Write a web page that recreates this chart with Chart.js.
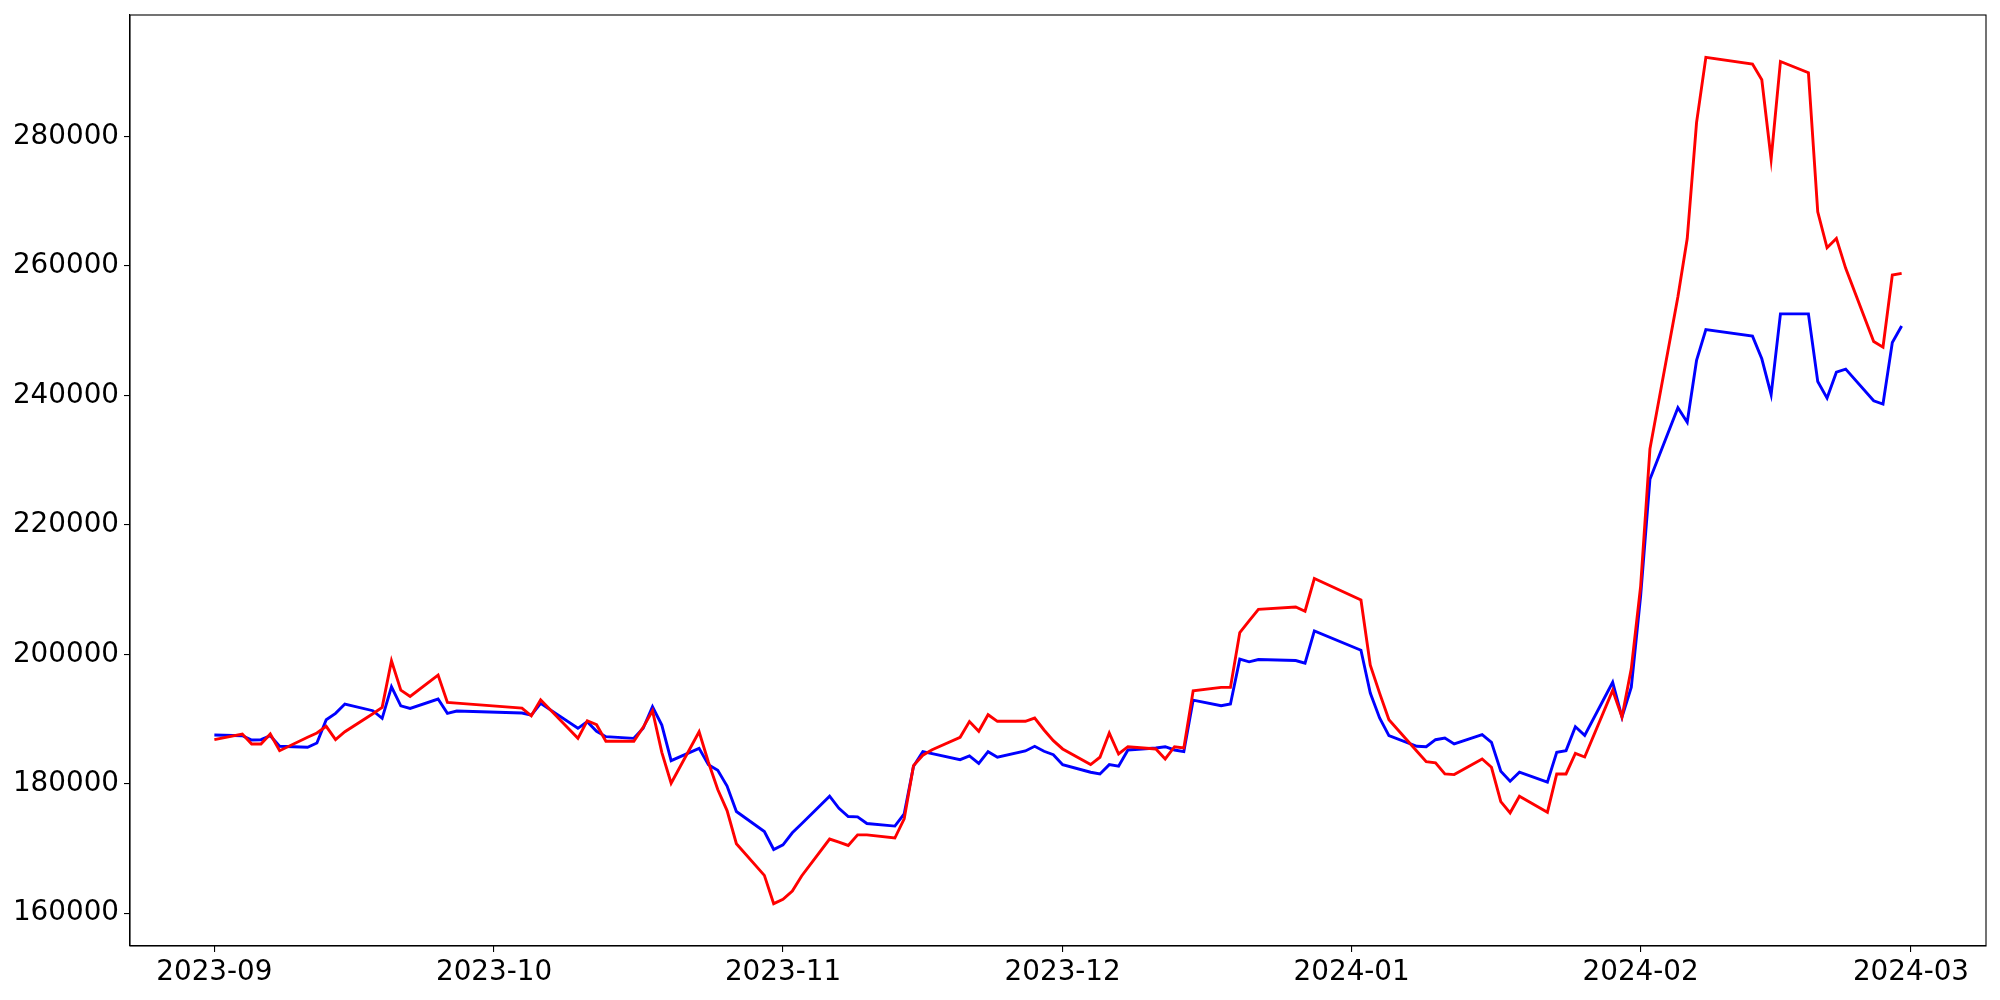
<!DOCTYPE html>
<html>
<head>
<meta charset="utf-8">
<script src="https://cdn.jsdelivr.net/npm/chart.js@4/dist/chart.umd.min.js"></script>
<style>
  html, body { margin: 0; padding: 0; background: #ffffff; }
  #wrap { width: 2000px; height: 1000px; }
</style>
</head>
<body>
<div id="wrap"><canvas id="c" width="2000" height="1000"></canvas></div>
<script>
// ---- data ----
const dates = [
  "2023-09-01","2023-09-04","2023-09-05","2023-09-06","2023-09-07","2023-09-08",
  "2023-09-11","2023-09-12","2023-09-13","2023-09-14","2023-09-15",
  "2023-09-18","2023-09-19","2023-09-20","2023-09-21","2023-09-22",
  "2023-09-25","2023-09-26","2023-09-27",
  "2023-10-04","2023-10-05","2023-10-06",
  "2023-10-10","2023-10-11","2023-10-12","2023-10-13",
  "2023-10-16","2023-10-17","2023-10-18","2023-10-19","2023-10-20",
  "2023-10-23","2023-10-24","2023-10-25","2023-10-26","2023-10-27",
  "2023-10-30","2023-10-31","2023-11-01","2023-11-02","2023-11-03",
  "2023-11-06","2023-11-07","2023-11-08","2023-11-09","2023-11-10",
  "2023-11-13","2023-11-14","2023-11-15","2023-11-16","2023-11-17",
  "2023-11-20","2023-11-21","2023-11-22","2023-11-23","2023-11-24",
  "2023-11-27","2023-11-28","2023-11-29","2023-11-30","2023-12-01",
  "2023-12-04","2023-12-05","2023-12-06","2023-12-07","2023-12-08",
  "2023-12-11","2023-12-12","2023-12-13","2023-12-14","2023-12-15",
  "2023-12-18","2023-12-19","2023-12-20","2023-12-21","2023-12-22",
  "2023-12-26","2023-12-27","2023-12-28",
  "2024-01-02","2024-01-03","2024-01-04","2024-01-05",
  "2024-01-08","2024-01-09","2024-01-10","2024-01-11","2024-01-12",
  "2024-01-15","2024-01-16","2024-01-17","2024-01-18","2024-01-19",
  "2024-01-22","2024-01-23","2024-01-24","2024-01-25","2024-01-26",
  "2024-01-29","2024-01-30","2024-01-31","2024-02-01","2024-02-02",
  "2024-02-05","2024-02-06","2024-02-07","2024-02-08",
  "2024-02-13","2024-02-14","2024-02-15","2024-02-16",
  "2024-02-19","2024-02-20","2024-02-21","2024-02-22","2024-02-23",
  "2024-02-26","2024-02-27","2024-02-28","2024-02-29"
];

const redValues = [
  186800,187680,186140,186140,187680,185100,
  187170,187830,188870,186800,188030,
  190810,191800,198980,194460,193490,
  196780,192560,192450,
  191690,190500,192970,
  187010,189730,189110,186550,
  186550,188710,191270,184850,180080,
  188030,183310,179100,175850,170720,
  165830,161460,162130,163420,165740,
  171450,170980,170460,172100,172100,
  171600,174570,182790,184400,185240,
  187170,189610,188100,190660,189640,
  189640,190150,188300,186650,185370,
  182950,184090,187830,184590,185720,
  185370,183820,185720,185520,194360,
  194880,194880,203360,205150,206950,
  207310,206650,211710,
  208390,198320,194000,189890,
  185010,183410,183210,181510,181410,
  183820,182540,177240,175500,178070,
  175600,181510,181510,184700,184130,
  194420,190300,197780,210500,231750,
  255260,264240,282160,292250,
  291200,288790,276500,291610,
  289870,268370,262820,264270,259640,
  248330,247460,258610,258870
];

const blueValues = [
  187520,187420,186750,186800,187420,185780,
  185630,186290,189890,190870,192310,
  191280,190100,194970,192040,191640,
  193080,190870,191230,
  190920,190610,192410,
  188560,189580,188100,187270,
  187010,188560,191890,189070,183560,
  185470,182940,182080,179640,175700,
  172610,169840,170560,172410,173800,
  178070,176200,174930,174880,173850,
  173450,175340,182700,184950,184640,
  183720,184290,183130,184950,184090,
  185060,185780,185010,184490,182950,
  181770,181510,182950,182700,185210,
  185520,185720,185210,184950,192920,
  192040,192310,199250,198830,199190,
  199040,198630,203620,
  200630,194000,190150,187420,
  185780,185720,186800,187060,186140,
  187570,186400,181930,180390,181770,
  180230,184860,185110,188800,187480,
  195680,190300,194930,208970,227050,
  238100,235850,245410,250190,
  249170,245660,240110,252600,
  252600,242160,239590,243600,244070,
  239180,238670,248170,250740
];

const xTickLabels = ["2023-09","2023-10","2023-11","2023-12","2024-01","2024-02","2024-03"];
const yTickValues = [160000,180000,200000,220000,240000,260000,280000];

// ---- helpers ----
function dayNum(s) {
  const p = s.split("-").map(Number);
  return Date.UTC(p[0], p[1] - 1, p[2] || 1) / 86400000;
}
const xDays = dates.map(dayNum);
const xTickDays = xTickLabels.map(l => dayNum(l + "-01"));
const firstDay = xDays[0], lastDay = xDays[xDays.length - 1];
const xPad = (lastDay - firstDay) * 0.05;

const allVals = redValues.concat(blueValues);
const vMin = Math.min.apply(null, allVals), vMax = Math.max.apply(null, allVals);
const yPad = (vMax - vMin) * 0.05;

const redPts = xDays.map((d, i) => ({ x: d, y: redValues[i] }));
const bluePts = xDays.map((d, i) => ({ x: d, y: blueValues[i] }));

const FONT = { family: "'DejaVu Sans', sans-serif", size: 27.8 };

const frame = {
  id: 'frame',
  afterDraw(chart) {
    const a = chart.chartArea, ctx = chart.ctx;
    ctx.save();
    ctx.strokeStyle = '#000';
    ctx.lineWidth = 1.1;
    ctx.strokeRect(a.left, a.top, a.right - a.left, a.bottom - a.top);
    ctx.restore();
  }
};

new Chart(document.getElementById('c'), {
  type: 'line',
  data: {
    datasets: [
      { data: redPts, borderColor: '#ff0000', borderWidth: 2.9, pointRadius: 0, tension: 0, fill: false },
      { data: bluePts, borderColor: '#0000ff', borderWidth: 2.9, pointRadius: 0, tension: 0, fill: false }
    ]
  },
  options: {
    responsive: false,
    animation: false,
    devicePixelRatio: 1,
    layout: { padding: { top: 15, right: 14, left: 0, bottom: 0 } },
    plugins: { legend: { display: false }, tooltip: { enabled: false } },
    scales: {
      x: {
        type: 'linear',
        min: firstDay - xPad,
        max: lastDay + xPad,
        afterBuildTicks: s => { s.ticks = xTickDays.map(v => ({ value: v })); },
        afterFit: s => { s.height = 54; s.paddingLeft = 0; s.paddingRight = 0; },
        ticks: {
          color: '#000', font: FONT, padding: 4, maxRotation: 0, autoSkip: false,
          callback: v => { const i = xTickDays.indexOf(v); return i >= 0 ? xTickLabels[i] : ''; }
        },
        grid: { drawOnChartArea: false, drawTicks: true, tickLength: 6, color: '#000', lineWidth: 1.1 },
        border: { display: true, color: '#000', width: 1.1 }
      },
      y: {
        type: 'linear',
        min: vMin - yPad,
        max: vMax + yPad,
        afterBuildTicks: s => { s.ticks = yTickValues.map(v => ({ value: v })); },
        afterFit: s => { s.width = 130; s.paddingTop = 0; s.paddingBottom = 0; },
        ticks: { color: '#000', font: FONT, padding: 5, autoSkip: false, callback: v => String(v) },
        grid: { drawOnChartArea: false, drawTicks: true, tickLength: 6, color: '#000', lineWidth: 1.1 },
        border: { display: true, color: '#000', width: 1.1 }
      }
    }
  },
  plugins: [frame]
});
</script>
</body>
</html>
